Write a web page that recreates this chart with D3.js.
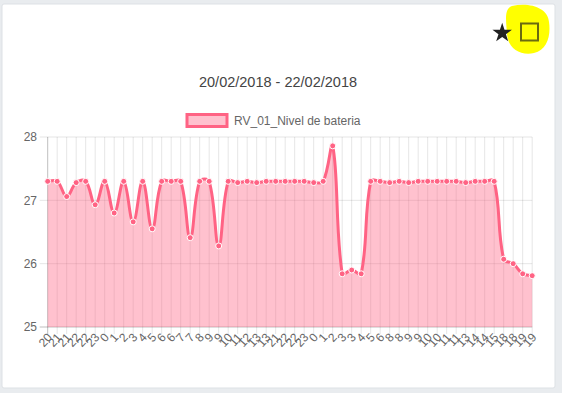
<!DOCTYPE html>
<html>
<head>
<meta charset="utf-8">
<script src="https://cdn.jsdelivr.net/npm/d3@7"></script>
<style>
  body { margin: 0; background: #e9ecef; }
  svg { display: block; font-family: 'Liberation Sans', Arial, sans-serif; }
</style>
</head>
<body>
<svg width="562" height="393"></svg>
<script>
// DATA
const title = '20/02/2018 - 22/02/2018';
const seriesName = 'RV_01_Nivel de bateria';
const hours = [
  20, 21, 21, 22, 22, 23, 0,
  1, 2, 3, 4, 5, 6, 6, 7, 7, 8, 9, 9, 10, 11, 12, 13, 13, 21, 22, 22, 23,
  0, 1, 2, 3, 3, 4, 5, 6, 8, 8, 9, 9, 10, 10, 11, 11, 13, 14, 14, 15, 18, 18, 19, 19
];
const battery = [
  27.30, 27.30, 27.06, 27.28, 27.30, 26.93, 27.30, 26.80, 27.30, 26.66,
  27.30, 26.55, 27.30, 27.30, 27.30, 26.41, 27.30, 27.30, 26.28, 27.30,
  27.28, 27.30, 27.28, 27.30, 27.30, 27.30, 27.30, 27.30, 27.28, 27.30,
  27.86, 25.84, 25.90, 25.84, 27.30, 27.30, 27.28, 27.30, 27.28, 27.30,
  27.30, 27.30, 27.30, 27.30, 27.28, 27.30, 27.30, 27.30, 26.07, 26.00,
  25.84, 25.81
];
const yTicks = [25, 26, 27, 28];

const svg = d3.select('svg');
const pink = '#ff6384';
const pinkFill = 'rgba(255,99,132,0.4)';
const textGrey = '#666';

// CARD
svg.append('rect')
    .attr('x', 2).attr('y', 4)
    .attr('width', 553).attr('height', 384)
    .attr('fill', '#fff')
    .attr('stroke', '#dde1e5')
    .attr('stroke-width', 1)
    .attr('rx', 2);

// TOOLBAR ICONS
svg.append('path')
    .attr('d', 'M512 6 C530 2 548 8 549 22 C551 36 547 50 534 53 C520 56 508 48 507 34 C506 20 504 9 512 6 Z')
    .attr('fill', '#ffff00');
svg.append('rect')
    .attr('x', 521).attr('y', 23.5)
    .attr('width', 17).attr('height', 17)
    .attr('fill', 'none')
    .attr('stroke', '#6b6b10')
    .attr('stroke-width', 2);
svg.append('path')
    .attr('d', d3.symbol(d3.symbolStar).size(118)())
    .attr('transform', 'translate(502.2, 33)')
    .attr('fill', '#222');

// TITLE + LEGEND
svg.append('text')
    .attr('x', 278).attr('y', 87)
    .attr('text-anchor', 'middle')
    .attr('font-size', 14.5)
    .attr('fill', '#444')
    .text(title);

svg.append('rect')
    .attr('x', 187).attr('y', 114.5)
    .attr('width', 40).attr('height', 12)
    .attr('fill', pinkFill)
    .attr('stroke', pink)
    .attr('stroke-width', 3);
svg.append('text')
    .attr('x', 234).attr('y', 125)
    .attr('font-size', 12)
    .attr('fill', textGrey)
    .text(seriesName);

// SCALES
const x = d3.scalePoint()
    .domain(d3.range(battery.length))
    .range([47.7, 532.2]);
const y = d3.scaleLinear()
    .domain([25, 28])
    .range([327, 137]);

// GRID
const grid = svg.append('g');
grid.selectAll('line.v')
  .data(x.domain())
  .join('line')
    .attr('x1', d => x(d)).attr('x2', d => x(d))
    .attr('y1', y(28)).attr('y2', y(25) + 7)
    .attr('stroke', d => d === 0 ? 'rgba(0,0,0,0.25)' : 'rgba(0,0,0,0.1)')
    .attr('stroke-width', 1);
grid.selectAll('line.h')
  .data(yTicks)
  .join('line')
    .attr('x1', x(0) - 8).attr('x2', x(battery.length - 1))
    .attr('y1', d => y(d)).attr('y2', d => y(d))
    .attr('stroke', d => d === 25 ? 'rgba(0,0,0,0.25)' : 'rgba(0,0,0,0.1)')
    .attr('stroke-width', 1);

// Y AXIS LABELS
svg.append('g')
  .selectAll('text')
  .data(yTicks)
  .join('text')
    .attr('x', 37)
    .attr('y', d => y(d))
    .attr('dy', '0.35em')
    .attr('text-anchor', 'end')
    .attr('font-size', 12)
    .attr('fill', textGrey)
    .text(d => d);

// X AXIS LABELS
svg.append('g')
  .selectAll('text')
  .data(hours)
  .join('text')
    .attr('transform', (d, i) => `translate(${x(i) + 2}, 335) rotate(-48)`)
    .attr('dy', '0.35em')
    .attr('text-anchor', 'end')
    .attr('font-size', 12)
    .attr('fill', textGrey)
    .text(d => d);

// LINE (Chart.js style bezier, tension 0.4)
const pts = battery.map((v, i) => ({ x: x(i), y: y(v) }));
const tension = 0.4;
pts.forEach((p, i) => {
  const prev = pts[i - 1] || p;
  const next = pts[i + 1] || p;
  const d01 = Math.hypot(p.x - prev.x, p.y - prev.y);
  const d12 = Math.hypot(next.x - p.x, next.y - p.y);
  const sum = d01 + d12 || 1;
  const fa = tension * d01 / sum;
  const fb = tension * d12 / sum;
  p.cpPrev = [p.x - fa * (next.x - prev.x), p.y - fa * (next.y - prev.y)];
  p.cpNext = [p.x + fb * (next.x - prev.x), p.y + fb * (next.y - prev.y)];
});
const path = d3.path();
path.moveTo(pts[0].x, pts[0].y);
for (let i = 1; i < pts.length; i++) {
  const a = pts[i - 1], b = pts[i];
  path.bezierCurveTo(a.cpNext[0], a.cpNext[1], b.cpPrev[0], b.cpPrev[1], b.x, b.y);
}
const lineD = path.toString();
const last = pts[pts.length - 1];

svg.append('path')
    .attr('d', `${lineD} L${last.x},${y(25)} L${pts[0].x},${y(25)} Z`)
    .attr('fill', pinkFill);
svg.append('path')
    .attr('d', lineD)
    .attr('fill', 'none')
    .attr('stroke', pink)
    .attr('stroke-width', 3);

svg.append('g')
  .selectAll('circle')
  .data(pts)
  .join('circle')
    .attr('cx', d => d.x)
    .attr('cy', d => d.y)
    .attr('r', 3)
    .attr('fill', pink)
    .attr('stroke', '#fff')
    .attr('stroke-width', 1);
</script>
</body>
</html>
